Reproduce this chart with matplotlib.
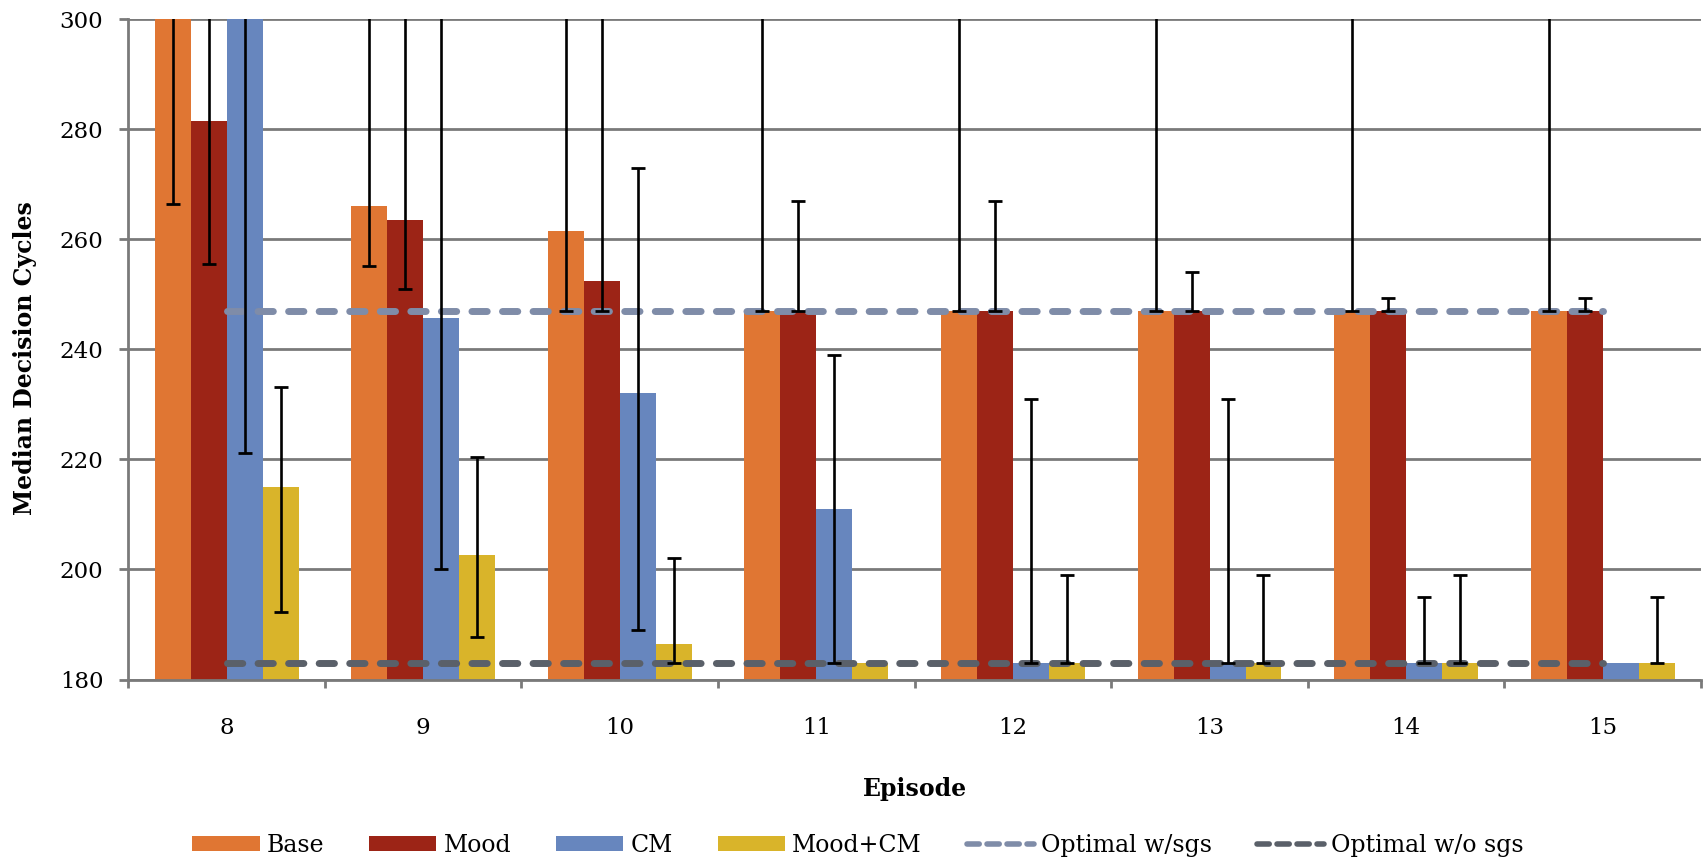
import matplotlib
matplotlib.use("Agg")
import matplotlib.pyplot as plt
import numpy as np
from matplotlib.lines import Line2D
from matplotlib.patches import Patch

# Episode categories and median decision cycles per condition
episodes = ["8", "9", "10", "11", "12", "13", "14", "15"]
base = [310, 266, 261.5, 247, 247, 247, 247, 247]
mood = [281.5, 263.5, 252.5, 247, 247, 247, 247, 247]
cm = [305, 245.7, 232, 211, 183, 183, 183, 183]
mood_cm = [215, 202.6, 186.4, 183, 183, 183, 183, 183]

# Lower / upper bounds of the spread around each median
base_lo = [266.5, 255.2, 247, 247, 247, 247, 247, 247]
base_hi = [340, 340, 340, 340, 340, 340, 340, 340]
mood_lo = [255.5, 251, 247, 247, 247, 247, 247, 247]
mood_hi = [340, 340, 340, 267, 267, 254, 249.3, 249.3]
cm_lo = [221.2, 200, 189, 183, 183, 183, 183, 183]
cm_hi = [340, 340, 273, 239, 231, 231, 195, 183]
mood_cm_lo = [192.2, 187.7, 183, 183, 183, 183, 183, 183]
mood_cm_hi = [233.2, 220.5, 202, 183, 199, 199, 199, 195]

# Optimal reference levels
optimal_sgs = 247
optimal_no_sgs = 183

series = [
    ("Base", base, base_lo, base_hi, "#E07633"),
    ("Mood", mood, mood_lo, mood_hi, "#9C2416"),
    ("CM", cm, cm_lo, cm_hi, "#6786BE"),
    ("Mood+CM", mood_cm, mood_cm_lo, mood_cm_hi, "#D9B42A"),
]

FONT = "DejaVu Serif"
plt.rcParams["font.family"] = FONT

W, H = 1707, 863
fig = plt.figure(figsize=(W / 100, H / 100), dpi=100)
left, right, top, bottom = 128.3, 1701, 19.3, 679.5
ax = fig.add_axes([left / W, 1 - bottom / H, (right - left) / W, (bottom - top) / H])

x = np.arange(len(episodes))
bw = 0.183
offsets = [-1.5 * bw, -0.5 * bw, 0.5 * bw, 1.5 * bw]

for (name, vals, lo, hi, color), off in zip(series, offsets):
    ax.bar(x + off, vals, width=bw, color=color, zorder=2, label=name)
    vals_a, lo_a, hi_a = np.array(vals), np.array(lo), np.array(hi)
    keep = hi_a > lo_a
    err = np.vstack([vals_a - lo_a, hi_a - vals_a])[:, keep]
    ax.errorbar((x + off)[keep], vals_a[keep], yerr=err, fmt="none",
                ecolor="black", elinewidth=1.9, capsize=4.7, capthick=2.0,
                zorder=5)

dash_kw = dict(linewidth=5, dash_capstyle="round", dashes=(2.2, 2.2), zorder=4)
ax.plot(x, [optimal_sgs] * len(x), color="#7F8CA8", **dash_kw)
ax.plot(x, [optimal_no_sgs] * len(x), color="#5A6069", **dash_kw)

ax.set_xlim(-0.5, len(episodes) - 0.5)
ax.set_ylim(180, 300)
ax.set_yticks(np.arange(180, 301, 20))
ax.yaxis.grid(True, color="#7A7A7A", linewidth=2.0, zorder=0)
ax.set_axisbelow(True)

for s in ("top", "right"):
    ax.spines[s].set_visible(False)
for s in ("left", "bottom"):
    ax.spines[s].set_color("#7A7A7A")
    ax.spines[s].set_linewidth(2.0)

ax.set_xticks(x)
ax.set_xticklabels(episodes)
ax.set_xticks(np.arange(-0.5, len(episodes)), minor=True)
ax.tick_params(axis="x", which="major", length=0, pad=27, labelsize=16.5)
ax.tick_params(axis="x", which="minor", length=6, width=2.0, color="#7A7A7A",
               direction="out")
ax.tick_params(axis="y", length=6.5, width=2.0, color="#7A7A7A", pad=11.5,
               labelsize=16.5)

fig.text(914.7 / W, 1 - 789 / H, "Episode", ha="center", va="center",
         fontsize=17, fontweight="bold")
fig.text(25 / W, 1 - 358 / H, "Median Decision Cycles", ha="center",
         va="center", rotation=90, fontsize=17, fontweight="bold")

handles = [Patch(facecolor=c, label=n) for n, _, _, _, c in series]
handles += [
    Line2D([], [], color="#7F8CA8", linewidth=4, dash_capstyle="round",
           dashes=(2.2, 1.4), label="Optimal w/sgs"),
    Line2D([], [], color="#5A6069", linewidth=4, dash_capstyle="round",
           dashes=(2.2, 1.4), label="Optimal w/o sgs"),
]
fig.legend(handles=handles, loc="center", bbox_to_anchor=(858 / W, 1 - 845 / H),
           ncol=6, frameon=False, fontsize=17, handlelength=2.85,
           handleheight=0.6, handletextpad=0.3, columnspacing=1.9)

fig.savefig("out.png", dpi=100)
